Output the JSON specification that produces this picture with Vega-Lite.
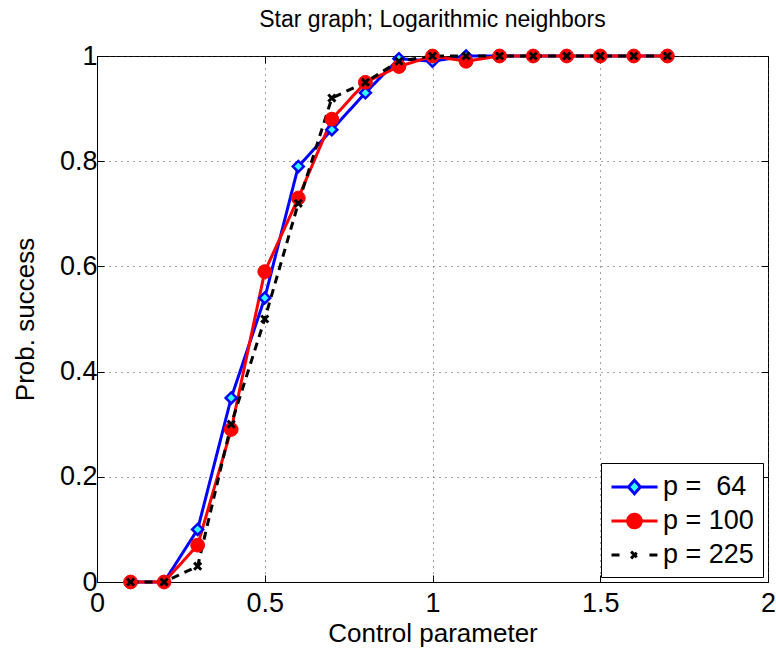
{
  "$schema": "https://vega.github.io/schema/vega-lite/v6.json",
  "autosize": "none",
  "padding": {"left": 97, "top": 56, "right": 8, "bottom": 70},
  "width": 671,
  "height": 526,
  "background": "white",
  "title": {"text": "Star graph; Logarithmic neighbors", "font": "Liberation Sans", "fontSize": 23, "fontWeight": "normal", "offset": 10, "color": "black"},
  "config": {
    "view": {"stroke": "black", "strokeWidth": 1},
    "axis": {"labelFont": "Liberation Sans", "titleFont": "Liberation Sans", "labelFontSize": 27, "titleFontSize": 26, "titleFontWeight": "normal", "labelColor": "black", "titleColor": "black", "domainColor": "black", "tickColor": "black", "gridColor": "#444", "gridDash": [1, 5], "gridWidth": 1, "gridOpacity": 1}
  },
  "data": {"values": [
    {"x": 0.1, "y": 0, "s": "p = \u00a064"}, {"x": 0.2, "y": 0, "s": "p = \u00a064"}, {"x": 0.3, "y": 0.10, "s": "p = \u00a064"}, {"x": 0.4, "y": 0.35, "s": "p = \u00a064"}, {"x": 0.5, "y": 0.54, "s": "p = \u00a064"}, {"x": 0.6, "y": 0.79, "s": "p = \u00a064"}, {"x": 0.7, "y": 0.86, "s": "p = \u00a064"}, {"x": 0.8, "y": 0.93, "s": "p = \u00a064"}, {"x": 0.9, "y": 0.995, "s": "p = \u00a064"}, {"x": 1.0, "y": 0.99, "s": "p = \u00a064"}, {"x": 1.1, "y": 1, "s": "p = \u00a064"}, {"x": 1.2, "y": 1, "s": "p = \u00a064"}, {"x": 1.3, "y": 1, "s": "p = \u00a064"}, {"x": 1.4, "y": 1, "s": "p = \u00a064"}, {"x": 1.5, "y": 1, "s": "p = \u00a064"}, {"x": 1.6, "y": 1, "s": "p = \u00a064"}, {"x": 1.7, "y": 1, "s": "p = \u00a064"},
    {"x": 0.1, "y": 0, "s": "p = 100"}, {"x": 0.2, "y": 0, "s": "p = 100"}, {"x": 0.3, "y": 0.07, "s": "p = 100"}, {"x": 0.4, "y": 0.29, "s": "p = 100"}, {"x": 0.5, "y": 0.59, "s": "p = 100"}, {"x": 0.6, "y": 0.73, "s": "p = 100"}, {"x": 0.7, "y": 0.88, "s": "p = 100"}, {"x": 0.8, "y": 0.95, "s": "p = 100"}, {"x": 0.9, "y": 0.98, "s": "p = 100"}, {"x": 1.0, "y": 1, "s": "p = 100"}, {"x": 1.1, "y": 0.99, "s": "p = 100"}, {"x": 1.2, "y": 1, "s": "p = 100"}, {"x": 1.3, "y": 1, "s": "p = 100"}, {"x": 1.4, "y": 1, "s": "p = 100"}, {"x": 1.5, "y": 1, "s": "p = 100"}, {"x": 1.6, "y": 1, "s": "p = 100"}, {"x": 1.7, "y": 1, "s": "p = 100"},
    {"x": 0.1, "y": 0, "s": "p = 225"}, {"x": 0.2, "y": 0, "s": "p = 225"}, {"x": 0.3, "y": 0.03, "s": "p = 225"}, {"x": 0.4, "y": 0.30, "s": "p = 225"}, {"x": 0.5, "y": 0.50, "s": "p = 225"}, {"x": 0.6, "y": 0.72, "s": "p = 225"}, {"x": 0.7, "y": 0.92, "s": "p = 225"}, {"x": 0.8, "y": 0.95, "s": "p = 225"}, {"x": 0.9, "y": 0.99, "s": "p = 225"}, {"x": 1.0, "y": 1, "s": "p = 225"}, {"x": 1.1, "y": 1, "s": "p = 225"}, {"x": 1.2, "y": 1, "s": "p = 225"}, {"x": 1.3, "y": 1, "s": "p = 225"}, {"x": 1.4, "y": 1, "s": "p = 225"}, {"x": 1.5, "y": 1, "s": "p = 225"}, {"x": 1.6, "y": 1, "s": "p = 225"}, {"x": 1.7, "y": 1, "s": "p = 225"}
  ]},
  "resolve": {"axis": {"x": "independent", "y": "independent"}},
  "layer": [
    {
      "mark": {"type": "line", "strokeWidth": 3},
      "encoding": {
        "x": {"field": "x", "type": "quantitative", "scale": {"domain": [0, 2], "nice": false, "zero": false}, "axis": {"title": "Control parameter", "values": [0, 0.5, 1, 1.5, 2], "format": ".1~f", "tickSize": -7, "labelPadding": 15, "titlePadding": 4, "grid": true, "labelFlush": false, "labelOverlap": false}},
        "y": {"field": "y", "type": "quantitative", "scale": {"domain": [0, 1], "nice": false}, "axis": {"title": "Prob. success", "values": [0, 0.2, 0.4, 0.6, 0.8, 1], "format": ".1~f", "tickSize": -7, "labelPadding": 7, "titlePadding": 21, "grid": true, "labelFlush": false, "labelOverlap": false}},
        "stroke": {"field": "s", "type": "nominal", "scale": {"domain": ["p = \u00a064", "p = 100", "p = 225"], "range": ["#0000ff", "#ff0000", "#000000"]}, "legend": {"title": null, "orient": "bottom-right", "offset": 5, "fillColor": "white", "strokeColor": "black", "padding": 9, "labelFont": "Liberation Sans", "labelFontSize": 27, "labelColor": "black", "symbolSize": 729, "symbolStrokeWidth": 3, "rowPadding": 6, "labelOffset": 23, "symbolDash": [],
          "encode": {"symbols": {"update": {
            "shape": {"signal": "datum.value === 'p = 100' ? 'M-1,0L2.41,0M0.2,0A0.5,0.5 0 1,0 1.2,0A0.5,0.5 0 1,0 0.2,0Z' : datum.value === 'p = 225' ? 'M-1,0L-0.4,0M1.81,0L2.41,0M0.45,-0.25L0.95,0.25M0.45,0.25L0.95,-0.25' : 'M-1,0L0.26,0M1.14,0L2.41,0M0.26,0L0.7,-0.5L1.14,0L0.7,0.5Z'"},
            "fill": {"signal": "datum.value === 'p = 100' ? '#ff0000' : datum.value === 'p = 225' ? '#000000' : '#33ffff'"},
            "strokeDash": {"value": []},
            "opacity": {"value": 1}
          }}}}},
        "strokeDash": {"field": "s", "type": "nominal", "scale": {"domain": ["p = \u00a064", "p = 100", "p = 225"], "range": [[1, 0], [1, 0], [8, 6]]}, "legend": null},
        "order": {"field": "x", "type": "quantitative"}
      }
    },
    {
      "transform": [{"filter": "datum.s === 'p = \u00a064'"}],
      "mark": {"type": "point", "shape": "diamond", "filled": true, "fill": "#33ffff", "stroke": "#0000ff", "strokeWidth": 2.5, "size": 120, "opacity": 1},
      "encoding": {
        "x": {"field": "x", "type": "quantitative", "axis": {"orient": "top", "title": null, "labels": false, "grid": false, "values": [0, 0.5, 1, 1.5, 2], "tickSize": -7, "domain": false}},
        "y": {"field": "y", "type": "quantitative", "axis": {"orient": "right", "title": null, "labels": false, "grid": false, "values": [0, 0.2, 0.4, 0.6, 0.8, 1], "tickSize": -7, "domain": false}}
      }
    },
    {
      "transform": [{"filter": "datum.s === 'p = 100'"}],
      "mark": {"type": "point", "shape": "circle", "filled": true, "fill": "#ff0000", "stroke": "#ff0000", "strokeWidth": 1, "size": 190, "opacity": 1},
      "encoding": {
        "x": {"field": "x", "type": "quantitative", "axis": null},
        "y": {"field": "y", "type": "quantitative", "axis": null}
      }
    },
    {
      "transform": [{"filter": "datum.s === 'p = 225'"}],
      "mark": {"type": "point", "shape": "M-0.6,-0.6L0.6,0.6M-0.6,0.6L0.6,-0.6", "filled": false, "stroke": "#000000", "strokeWidth": 3, "size": 140, "opacity": 1},
      "encoding": {
        "x": {"field": "x", "type": "quantitative", "axis": null},
        "y": {"field": "y", "type": "quantitative", "axis": null}
      }
    }
  ]
}
